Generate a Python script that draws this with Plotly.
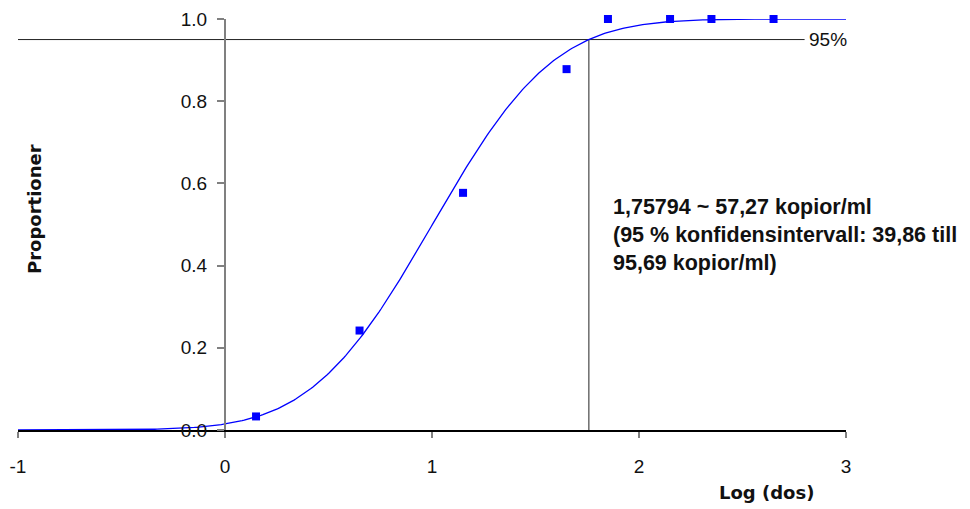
import math
import plotly.graph_objects as go

# Observed data (log dose vs proportion positive)
log_dose = [0.15, 0.65, 1.15, 1.65, 1.85, 2.15, 2.35, 2.65]
proportion = [0.033, 0.242, 0.577, 0.878, 1.0, 1.0, 1.0, 1.0]

# Probit fit parameters
probit_mu = 1.002
probit_sigma = 0.4596
hit_level = 0.95
hit_log_dose = 1.75794
hit_line_end = 2.8

x_ticks = [-1, 0, 1, 2, 3]
y_ticks = [0.0, 0.2, 0.4, 0.6, 0.8, 1.0]

annotation_text = ("1,75794 ~ 57,27 kopior/ml<br>"
                   "(95 % konfidensintervall: 39,86 till<br>"
                   "95,69 kopior/ml)")

FONT = "Liberation Sans, Arial, sans-serif"
BOLD_FONT = "DejaVu Sans, Liberation Sans, sans-serif"

# fitted curve sampled over the axis range
n = 400
curve_x = [x_ticks[0] + (x_ticks[-1] - x_ticks[0]) * i / (n - 1) for i in range(n)]
curve_y = [0.5 * (1 + math.erf((x - probit_mu) / (probit_sigma * math.sqrt(2)))) for x in curve_x]

fig = go.Figure()

# reference lines
fig.add_trace(go.Scatter(x=[x_ticks[0], hit_line_end], y=[hit_level, hit_level],
                         mode="lines", line=dict(color="#222222", width=1),
                         hoverinfo="skip", showlegend=False, cliponaxis=False))
fig.add_trace(go.Scatter(x=[hit_log_dose, hit_log_dose], y=[0, hit_level],
                         mode="lines", line=dict(color="#222222", width=1),
                         hoverinfo="skip", showlegend=False, cliponaxis=False))

fig.add_trace(go.Scatter(x=curve_x, y=curve_y, mode="lines",
                         line=dict(color="#0000FF", width=1.3),
                         showlegend=False, cliponaxis=False))
fig.add_trace(go.Scatter(x=log_dose, y=proportion, mode="markers",
                         marker=dict(symbol="square", size=8, color="#0000FF"),
                         showlegend=False, cliponaxis=False))

# page body has an 8px margin: size the figure so it fills the window
OFF = 8
W, H = 970 - OFF, 509 - OFF
ml, mr, mt, mb = 18 - OFF, 124, 19 - OFF, 79
pw, ph = W - ml - mr, H - mt - mb

fig.update_layout(
    width=W, height=H,
    margin=dict(l=ml, r=mr, t=mt, b=mb, autoexpand=False),
    paper_bgcolor="white", plot_bgcolor="white",
    font=dict(family=FONT, size=19, color="#111111"),
    xaxis=dict(range=[x_ticks[0], x_ticks[-1]], tickvals=x_ticks,
               ticktext=[str(v) for v in x_ticks],
               automargin=False,
               showgrid=False, zeroline=False, showline=True,
               linecolor="black", linewidth=1.5,
               ticks="outside", ticklen=6, tickcolor="#808080", tickwidth=2,
               ticklabelstandoff=12,
               tickfont=dict(family=FONT, size=19, color="#111111")),
    yaxis=dict(range=[y_ticks[0], y_ticks[-1]], tickvals=y_ticks,
               ticktext=["%.1f" % v for v in y_ticks],
               automargin=False,
               anchor="free", position=0.25,
               showgrid=False, zeroline=False, showline=True,
               linecolor="#808080", linewidth=2,
               ticks="outside", ticklen=7, tickcolor="#808080", tickwidth=1.5,
               ticklabelstandoff=6,
               tickfont=dict(family=FONT, size=19, color="#111111")),
    annotations=[
        dict(text=annotation_text, x=611, y=193, xref="paper", yref="paper",
             showarrow=False, align="left", xanchor="left", yanchor="top",
             font=dict(family=FONT, size=21.5, color="#111111", weight="bold")),
        dict(text="95%", x=hit_line_end, y=hit_level, xref="x", yref="y",
             xanchor="left", yanchor="middle", xshift=2, showarrow=False,
             font=dict(family=FONT, size=19, color="#111111")),
        dict(text="Log (dos)", x=766, y=493, xref="paper", yref="paper",
             showarrow=False, xanchor="center", yanchor="middle",
             font=dict(family=BOLD_FONT, size=18, color="#111111", weight="bold")),
        dict(text="Proportioner", x=34, y=209, xref="paper", yref="paper",
             showarrow=False, xanchor="center", yanchor="middle", textangle=-90,
             font=dict(family=BOLD_FONT, size=18, color="#111111", weight="bold")),
    ],
)

# convert screen-pixel annotation positions to paper coordinates
for ann in fig.layout.annotations:
    if ann.xref == "paper":
        ann.x = (ann.x - OFF - ml) / pw
        ann.y = 1 - (ann.y - OFF - mt) / ph

fig.write_html("out.html")
